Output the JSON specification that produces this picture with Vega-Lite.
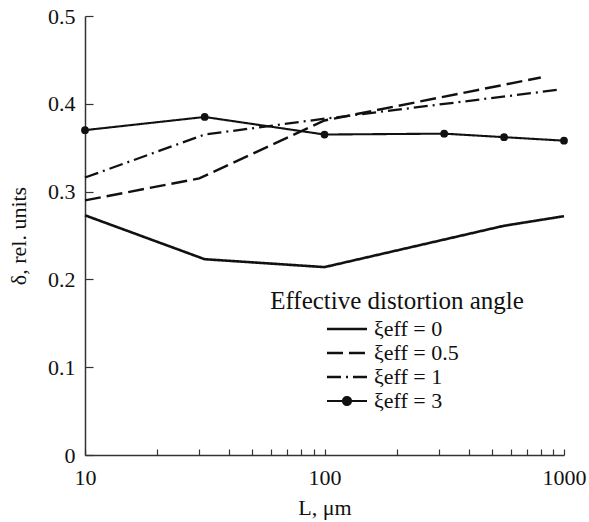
{
  "$schema": "https://vega.github.io/schema/vega-lite/v6.json",
  "width": 479,
  "height": 439,
  "autosize": {"type": "none"},
  "padding": {"left": 85, "top": 16, "right": 25, "bottom": 67},
  "background": "white",
  "config": {
    "font": "Liberation Serif",
    "view": {"stroke": null},
    "axis": {
      "domainColor": "#333",
      "domainWidth": 1.5,
      "tickColor": "#333",
      "tickWidth": 1.2,
      "labelFont": "Liberation Serif",
      "labelFontSize": 22,
      "labelColor": "#111",
      "titleFont": "Liberation Serif",
      "titleFontSize": 22,
      "titleFontWeight": "normal",
      "titleColor": "#111",
      "grid": false
    }
  },
  "data": {
    "values": [
      {"L": 10, "delta": 0.273, "series": "ξeff = 0"},
      {"L": 31.6, "delta": 0.223, "series": "ξeff = 0"},
      {"L": 100, "delta": 0.214, "series": "ξeff = 0"},
      {"L": 560, "delta": 0.261, "series": "ξeff = 0"},
      {"L": 1000, "delta": 0.272, "series": "ξeff = 0"},
      {"L": 10, "delta": 0.290, "series": "ξeff = 0.5"},
      {"L": 30, "delta": 0.315, "series": "ξeff = 0.5"},
      {"L": 100, "delta": 0.381, "series": "ξeff = 0.5"},
      {"L": 800, "delta": 0.430, "series": "ξeff = 0.5"},
      {"L": 10, "delta": 0.316, "series": "ξeff = 1"},
      {"L": 31.6, "delta": 0.365, "series": "ξeff = 1"},
      {"L": 100, "delta": 0.383, "series": "ξeff = 1"},
      {"L": 950, "delta": 0.416, "series": "ξeff = 1"},
      {"L": 10, "delta": 0.370, "series": "ξeff = 3"},
      {"L": 31.6, "delta": 0.385, "series": "ξeff = 3"},
      {"L": 100, "delta": 0.365, "series": "ξeff = 3"},
      {"L": 316, "delta": 0.366, "series": "ξeff = 3"},
      {"L": 562, "delta": 0.362, "series": "ξeff = 3"},
      {"L": 1000, "delta": 0.358, "series": "ξeff = 3"}
    ]
  },
  "encoding": {
    "x": {
      "field": "L",
      "type": "quantitative",
      "scale": {"type": "log", "domain": [10, 1000]},
      "axis": {
        "title": "L, μm",
        "values": [10, 20, 30, 40, 50, 60, 70, 80, 90, 100, 200, 300, 400, 500, 600, 700, 800, 900, 1000],
        "format": "d",
        "labelExpr": "indexof([10, 100, 1000], datum.value) >= 0 ? datum.label : ''",
        "tickSize": -6,
        "labelPadding": 18,
        "labelFlush": false,
        "labelOverlap": false,
        "titlePadding": 9
      }
    },
    "y": {
      "field": "delta",
      "type": "quantitative",
      "scale": {"domain": [0, 0.5], "nice": false, "zero": true},
      "axis": {
        "title": "δ, rel. units",
        "values": [0, 0.1, 0.2, 0.3, 0.4, 0.5],
        "labelExpr": "datum.value == 0 ? '0' : format(datum.value, '.1f')",
        "tickSize": -8,
        "labelPadding": 18,
        "titlePadding": 17
      }
    }
  },
  "layer": [
    {
      "mark": {"type": "line", "color": "#111"},
      "encoding": {
        "strokeDash": {
          "field": "series",
          "type": "nominal",
          "scale": {
            "domain": ["ξeff = 0", "ξeff = 0.5", "ξeff = 1", "ξeff = 3"],
            "range": [[1, 0], [16, 6], [14, 5, 2, 5], [1, 0]]
          },
          "legend": {
            "orient": "none",
            "legendX": 185,
            "legendY": 273,
            "title": "Effective distortion angle",
            "titleFont": "Liberation Serif",
            "titleFontSize": 25,
            "titleFontWeight": "normal",
            "titleColor": "#111",
            "titleAnchor": "middle",
            "titleLimit": 500,
            "titlePadding": 4,
            "labelFont": "Liberation Serif",
            "labelFontSize": 22,
            "labelColor": "#111",
            "symbolType": "stroke",
            "symbolSize": 178,
            "symbolStrokeWidth": 2.2,
            "symbolStrokeColor": "#111",
            "labelOffset": 16,
            "rowPadding": 2,
            "padding": 0,
            "encode": {
              "symbols": {
                "update": {
                  "shape": {"signal": "datum.value == 'ξeff = 3' ? 'M-3,0H3M0.6,0A0.6,0.6,0,1,1,-0.6,0A0.6,0.6,0,1,1,0.6,0' : 'M-3,0H3'"},
                  "fill": {"signal": "datum.value == 'ξeff = 3' ? '#111' : 'transparent'"},
                  "stroke": {"value": "#111"},
                  "strokeWidth": {"value": 2.2},
                  "strokeDash": {"scale": "strokeDash", "field": "value"},
                  "opacity": {"value": 1}
                }
              }
            }
          }
        },
        "strokeWidth": {
          "field": "series",
          "type": "nominal",
          "scale": {
            "domain": ["ξeff = 0", "ξeff = 0.5", "ξeff = 1", "ξeff = 3"],
            "range": [2.6, 2.1, 1.6, 2.6]
          },
          "legend": null
        }
      }
    },
    {
      "transform": [{"filter": "datum.series == 'ξeff = 3'"}],
      "mark": {"type": "point", "filled": true, "color": "#111", "size": 60, "opacity": 1},
      "encoding": {}
    }
  ]
}
